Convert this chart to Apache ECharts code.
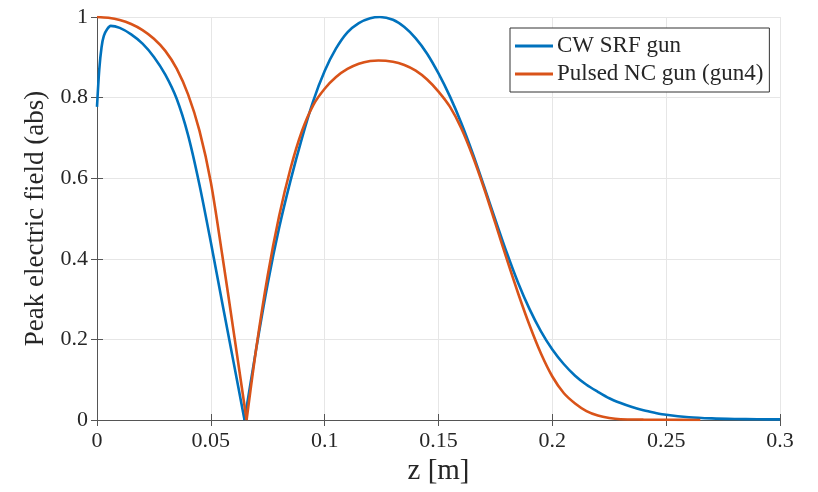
<!DOCTYPE html>
<html>
<head>
<meta charset="utf-8">
<script src="https://cdn.jsdelivr.net/npm/echarts@6/dist/echarts.min.js"></script>
<style>
html,body{margin:0;padding:0;background:#fff;}
#chart{width:818px;height:492px;}
</style>
</head>
<body>
<div id="chart"></div>
<script>
// ---- data ----
var xTicks = [0, 0.05, 0.1, 0.15, 0.2, 0.25, 0.3];
var yTicks = [0, 0.2, 0.4, 0.6, 0.8, 1];
var seriesNames = ['CW SRF gun', 'Pulsed NC gun (gun4)'];

var cwZ = [0,0.001,0.002,0.003,0.0045,0.006,0.010,0.015,0.020,0.025,0.030,0.035,0.040,0.045,0.050,0.055,0.060,0.0648,
           0.070,0.075,0.080,0.085,0.090,0.095,0.100,0.105,0.110,0.115,0.120,0.1243,0.130,0.135,0.140,0.145,0.150,0.155,0.160,0.165,0.170,0.175,0.180,0.185,0.190,0.195,0.200,0.205,0.210,0.215,0.220,0.225,0.230,0.235,0.240,0.245,0.250,0.260,0.270,0.280,0.290,0.300];
var cwV = [0.777,0.87,0.925,0.953,0.97,0.978,0.973,0.957,0.934,0.901,0.857,0.797,0.707,0.584,0.441,0.291,0.143,0,
           0.179,0.339,0.477,0.594,0.699,0.792,0.866,0.922,0.962,0.985,0.997,1.0,0.993,0.975,0.947,0.909,0.86,0.803,0.737,0.662,0.58,0.4965,0.415,0.34,0.275,0.22,0.175,0.139,0.110,0.0875,0.070,0.054,0.042,0.032,0.024,0.018,0.013,0.007,0.004,0.0025,0.0018,0.0015];

var ncZ = [0,0.005,0.010,0.015,0.020,0.025,0.030,0.035,0.040,0.045,0.050,0.055,0.060,0.0657,
           0.070,0.075,0.080,0.085,0.090,0.095,0.100,0.105,0.110,0.115,0.120,0.1236,0.130,0.135,0.140,0.145,0.150,0.155,0.160,0.165,0.170,0.175,0.180,0.185,0.190,0.195,0.200,0.205,0.210,0.215,0.220,0.225,0.230,0.240,0.250,0.265];
var ncV = [1.0,0.998,0.9925,0.9825,0.9675,0.946,0.916,0.872,0.808,0.718,0.59,0.41,0.22,0,
           0.18,0.359,0.506,0.624,0.7165,0.7815,0.822,0.851,0.871,0.884,0.891,0.892,0.889,0.881,0.867,0.845,0.815,0.7775,0.724,0.655,0.575,0.488,0.399,0.314,0.235,0.165,0.108,0.067,0.041,0.022,0.011,0.005,0.002,0.001,0.0005,0];

// ---- build ----
function pairs(zs, vs){ return zs.map(function(z,i){ return [z, vs[i]]; }); }
// split at the cusp (zero) so the V-shape stays sharp
function splitAtZero(zs, vs){
  var k = -1;
  for (var i = 1; i < vs.length - 1; i++) { if (vs[i] === 0) { k = i; break; } }
  var all = pairs(zs, vs);
  return [all.slice(0, k + 1), all.slice(k)];
}
var colors = ['#0072BD', '#D95319'];
var fontFam = '"Liberation Serif", "Times New Roman", serif';
var axisCol = '#555555';
var txtCol = '#262626';

var series = [];
[[cwZ, cwV], [ncZ, ncV]].forEach(function(d, si){
  splitAtZero(d[0], d[1]).forEach(function(part){
    series.push({
      name: seriesNames[si], type: 'line', data: part,
      showSymbol: false, smooth: 0.3, animation: false,
      color: colors[si],
      lineStyle: { width: 2.6, color: colors[si] },
      xAxisIndex: 0, yAxisIndex: 0
    });
  });
});

var chart = echarts.init(document.getElementById('chart'), null, { renderer: 'canvas' });
chart.setOption({
  backgroundColor: '#ffffff',
  animation: false,
  grid: { left: 97, right: 38, top: 17, bottom: 72, containLabel: false },
  legend: {
    data: seriesNames,
    orient: 'vertical',
    left: 510, top: 28,
    padding: [4, 6, 4, 5],
    itemGap: 0,
    itemWidth: 38, itemHeight: 3,
    icon: 'rect',
    backgroundColor: '#ffffff',
    borderColor: '#333333', borderWidth: 1,
    textStyle: { fontFamily: fontFam, fontSize: 23, color: txtCol, lineHeight: 28, padding: [0,0,0,-1] }
  },
  xAxis: [{
    type: 'value', min: xTicks[0], max: xTicks[xTicks.length-1], interval: 0.05,
    position: 'bottom',
    name: 'z [m]', nameLocation: 'middle', nameGap: 36,
    nameTextStyle: { fontFamily: fontFam, fontSize: 29, color: txtCol },
    axisLine: { show: true, lineStyle: { color: axisCol, width: 1 } },
    axisTick: { show: true, inside: true, length: 6, lineStyle: { color: axisCol } },
    axisLabel: { fontFamily: fontFam, fontSize: 22, color: txtCol, margin: 10 },
    splitLine: { show: true, lineStyle: { color: '#e6e6e6', width: 1 } }
  }, {
    type: 'value', min: xTicks[0], max: xTicks[xTicks.length-1], interval: 0.05,
    position: 'top',
    axisLine: { show: true, lineStyle: { color: axisCol, width: 1 } },
    axisTick: { show: true, inside: true, length: 6, lineStyle: { color: axisCol } },
    axisLabel: { show: false },
    splitLine: { show: false }
  }],
  yAxis: [{
    type: 'value', min: yTicks[0], max: yTicks[yTicks.length-1], interval: 0.2,
    position: 'left',
    name: 'Peak electric field (abs)', nameLocation: 'middle', nameGap: 48,
    nameTextStyle: { fontFamily: fontFam, fontSize: 27, color: txtCol },
    axisLine: { show: true, lineStyle: { color: axisCol, width: 1 } },
    axisTick: { show: true, inside: true, length: 6, lineStyle: { color: axisCol } },
    axisLabel: { fontFamily: fontFam, fontSize: 22, color: txtCol, margin: 9 },
    splitLine: { show: true, lineStyle: { color: '#e6e6e6', width: 1 } }
  }, {
    type: 'value', min: yTicks[0], max: yTicks[yTicks.length-1], interval: 0.2,
    position: 'right',
    axisLine: { show: true, lineStyle: { color: axisCol, width: 1 } },
    axisTick: { show: true, inside: true, length: 6, lineStyle: { color: axisCol } },
    axisLabel: { show: false },
    splitLine: { show: false }
  }],
  series: series
});
</script>
</body>
</html>
